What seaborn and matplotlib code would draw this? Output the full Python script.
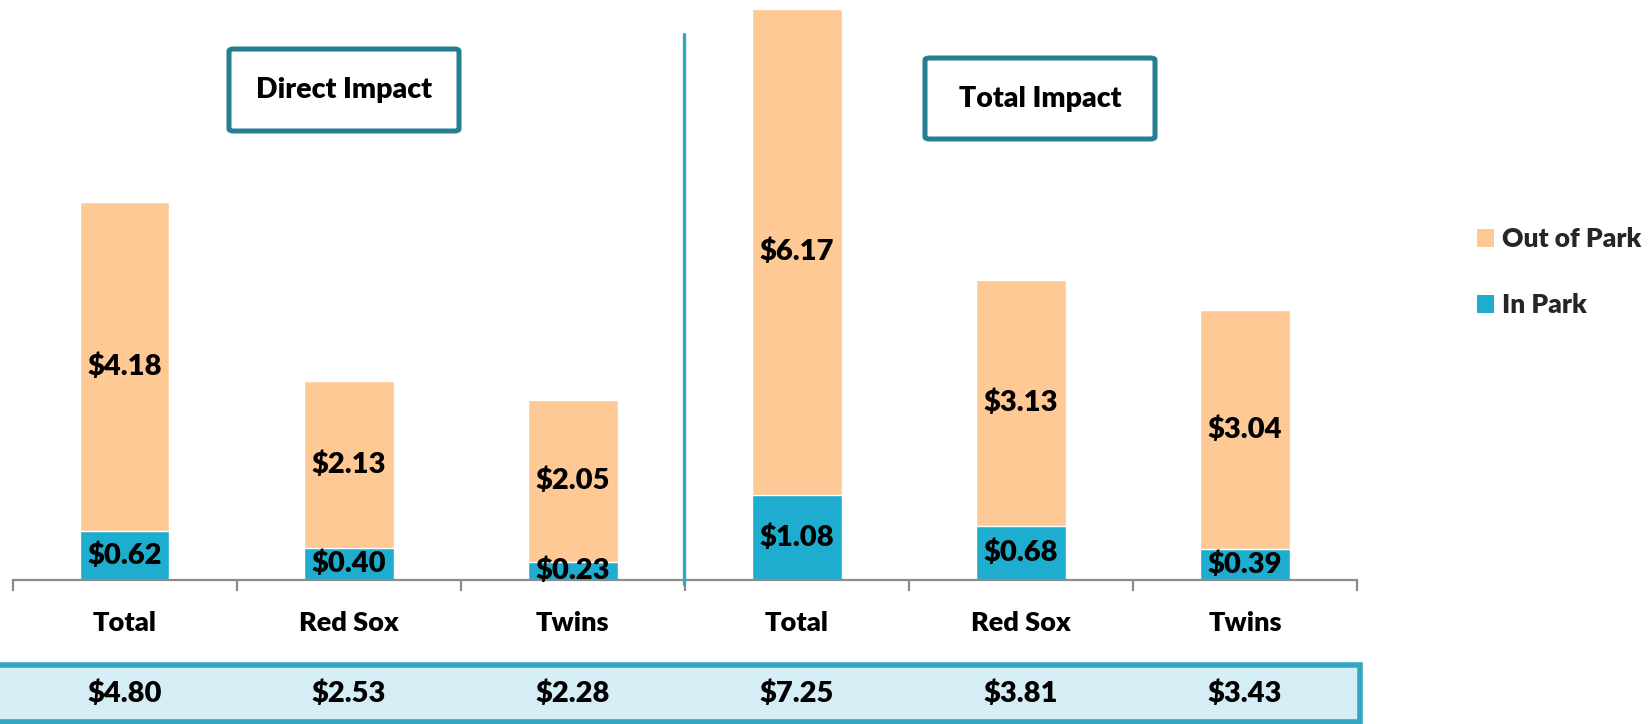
import matplotlib
matplotlib.use("Agg")
import matplotlib.pyplot as plt
from matplotlib.patches import FancyBboxPatch, Rectangle, Patch
from matplotlib.lines import Line2D
import seaborn as sns
import pandas as pd
import numpy as np

# ---- data ----
categories = ["Total", "Red Sox", "Twins", "Total", "Red Sox", "Twins"]
groups = ["Direct Impact", "Direct Impact", "Direct Impact",
          "Total Impact", "Total Impact", "Total Impact"]
in_park = [0.62, 0.40, 0.23, 1.08, 0.68, 0.39]
out_of_park = [4.18, 2.13, 2.05, 6.17, 3.13, 3.04]
totals = [4.80, 2.53, 2.28, 7.25, 3.81, 3.43]
series_names = ["Out of Park", "In Park"]

ORANGE = "#FFC995"
BLUE = "#1FADCF"
BOX = "#257E8F"
LINE = "#33A6C3"
BAND = "#D5EDF5"
WT = "heavy"

sns.set_theme(style="white")
plt.rcParams["font.family"] = ["Lato", "DejaVu Sans"]
plt.rcParams["font.weight"] = WT

keys = [f"{g}|{c}" for g, c in zip(groups, categories)]
df = pd.DataFrame({"key": keys, "in": in_park, "out": out_of_park,
                   "stack": np.array(in_park) + np.array(out_of_park)})

W, H = 1649, 724
fig = plt.figure(figsize=(W / 100, H / 100), dpi=100)
ax = fig.add_axes([12.6 / W, 144 / H, (1357 - 12.6) / W, 1 - 144 / H])

sns.barplot(data=df, x="key", y="stack", order=keys, color=ORANGE,
            width=0.40, saturation=1, ax=ax, label=series_names[0])
sns.barplot(data=df, x="key", y="in", order=keys, color=BLUE,
            width=0.40, saturation=1, ax=ax, label=series_names[1])

ax.set_xlim(-0.5, 5.5)
ax.set_ylim(0, 7.36)
ax.set_xlabel("")
ax.set_ylabel("")
ax.set_yticks([])
for s in ["top", "right", "left"]:
    ax.spines[s].set_visible(False)
ax.spines["bottom"].set_color("#8C8C8C")
ax.spines["bottom"].set_linewidth(1.6)
ax.set_xticks(range(6))
ax.set_xticklabels(categories, fontsize=19.5, fontweight=WT, color="black")
ax.tick_params(axis="x", which="major", length=0, pad=22)
ax.set_xticks(np.arange(-0.5, 6.0, 1.0), minor=True)
ax.tick_params(axis="x", which="minor", length=8, width=1.6, color="#8C8C8C",
               direction="out", bottom=True)
if ax.legend_:
    ax.legend_.remove()

VS = 21
# value labels
for i in range(6):
    ax.text(i, in_park[i] / 2, f"${in_park[i]:.2f}", ha="center", va="center",
            fontsize=VS, fontweight=WT, color="black")
    ax.text(i, in_park[i] + out_of_park[i] / 2, f"${out_of_park[i]:.2f}",
            ha="center", va="center", fontsize=VS, fontweight=WT,
            color="black")

# divider line
fig.add_artist(Line2D([683.5 / W, 683.5 / W], [1 - 34 / H, 1 - 584 / H],
                      color=LINE, lw=2.4, transform=fig.transFigure))

# group boxes
def group_box(x0, y0, x1, y1, text):
    p = FancyBboxPatch((x0 / W, 1 - y1 / H), (x1 - x0) / W, (y1 - y0) / H,
                       boxstyle="round,pad=0,rounding_size=0.003",
                       transform=fig.transFigure, facecolor="white",
                       edgecolor=BOX, linewidth=3.6)
    fig.add_artist(p)
    fig.text((x0 + x1) / 2 / W, 1 - (y0 + y1) / 2 / H, text, ha="center",
             va="center", fontsize=20.5, fontweight=WT, color="black")

group_box(229, 49, 459, 131, groups[0])
group_box(925, 58, 1155, 139, groups[3])

# bottom totals band
band = Rectangle((-5 / W, 2 / H), (1360 + 5) / W, (722 - 665) / H,
                 transform=fig.transFigure, facecolor=BAND, edgecolor=LINE,
                 linewidth=4)
fig.add_artist(band)
for i in range(6):
    xf = fig.transFigure.inverted().transform(ax.transData.transform((i, 0)))[0]
    fig.text(xf, 1 - 694 / H, f"${totals[i]:.2f}", ha="center", va="center",
             fontsize=VS, fontweight=WT, color="black")

# legend
handles = [Patch(facecolor=ORANGE, edgecolor="none"),
           Patch(facecolor=BLUE, edgecolor="none")]
fig.legend(handles, series_names, loc="upper left",
           bbox_to_anchor=(1477 / W, 1 - 227 / H), frameon=False,
           handlelength=0.65, handleheight=0.65, borderaxespad=0,
           handletextpad=0.3, labelspacing=1.6, borderpad=0,
           prop={"weight": WT, "size": 19})

fig.savefig("out.png", dpi=100)
